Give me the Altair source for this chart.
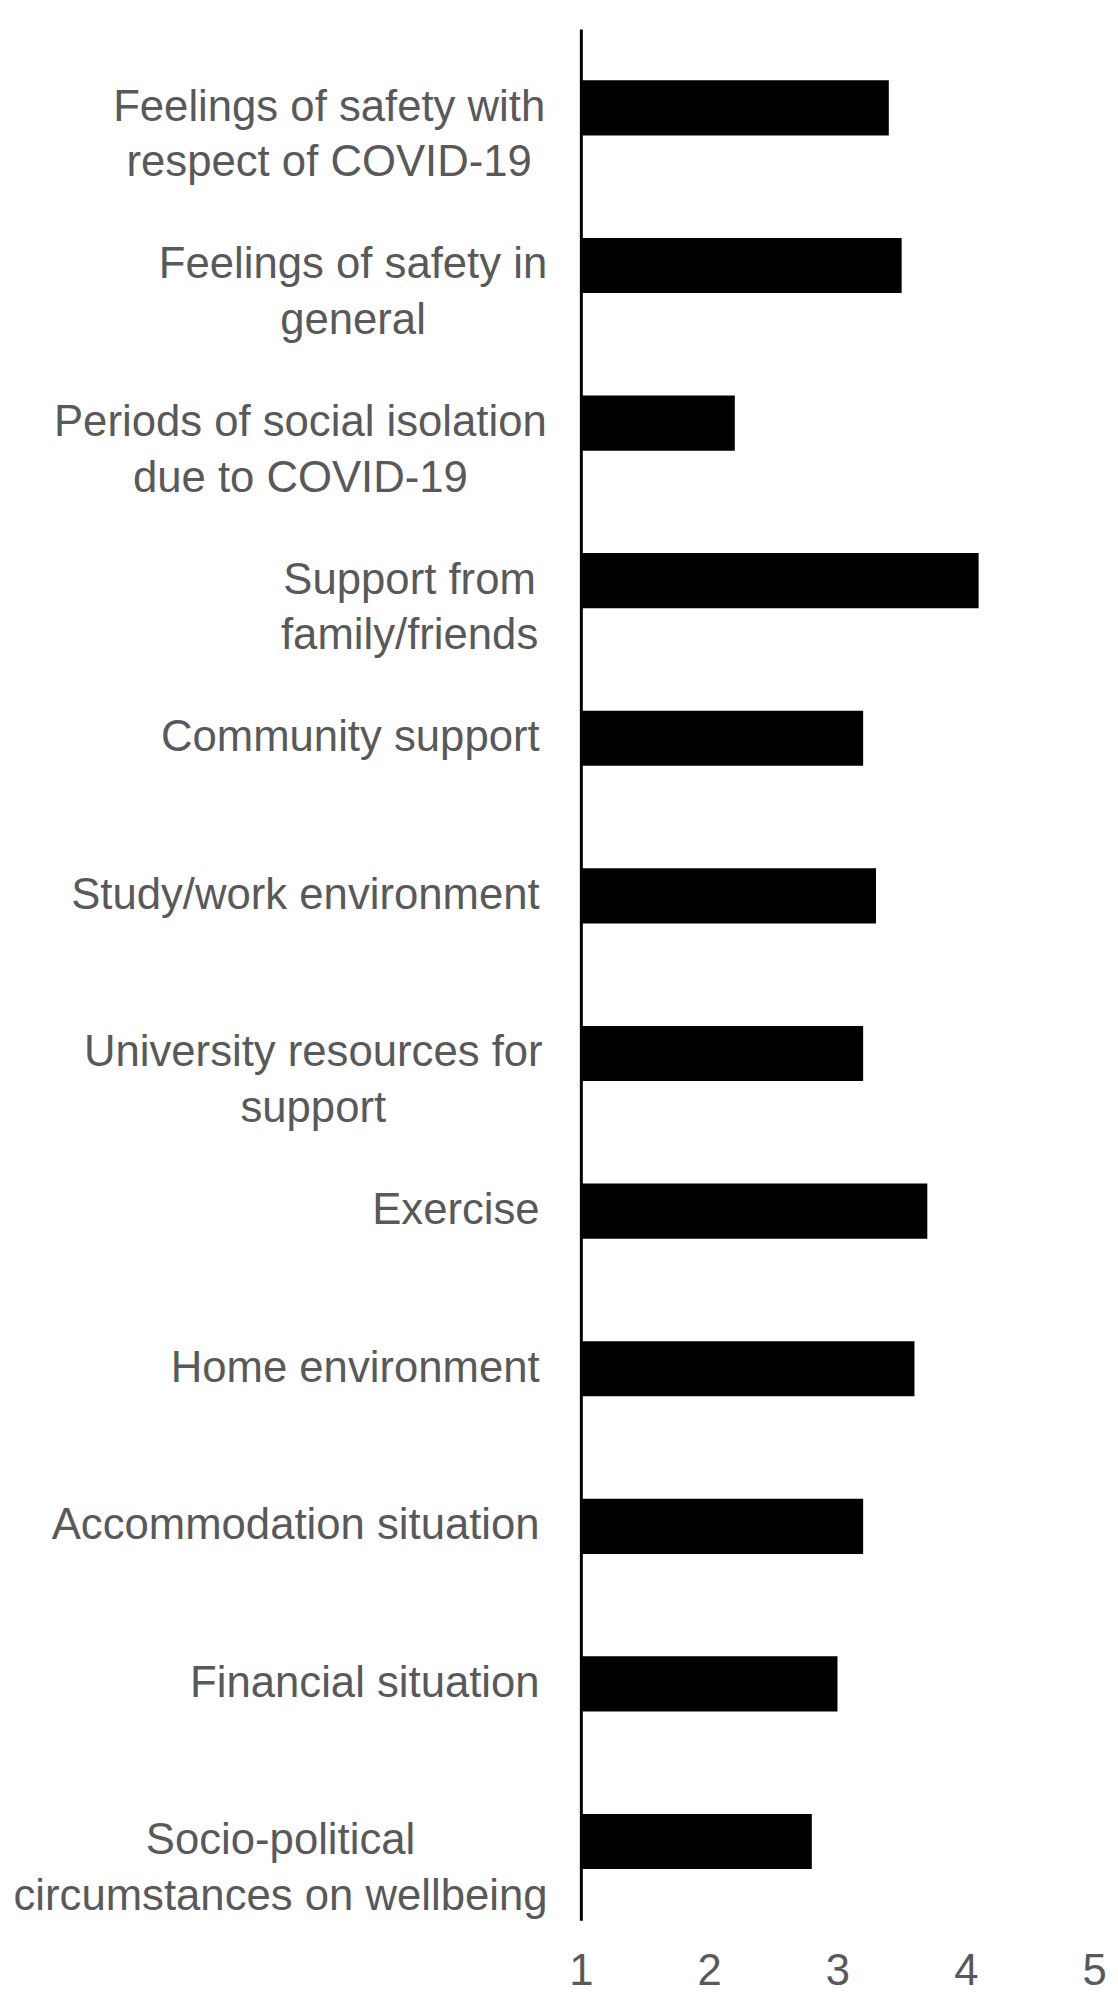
import altair as alt
import pandas as pd

categories = [
    "Feelings of safety with\nrespect of COVID-19",
    "Feelings of safety in\ngeneral",
    "Periods of social isolation\ndue to COVID-19",
    "Support from\nfamily/friends",
    "Community support",
    "Study/work environment",
    "University resources for\nsupport",
    "Exercise",
    "Home environment",
    "Accommodation situation",
    "Financial situation",
    "Socio-political\ncircumstances on wellbeing",
]
values = [3.4, 3.5, 2.2, 4.1, 3.2, 3.3, 3.2, 3.7, 3.6, 3.2, 3.0, 2.8]
x_ticks = [1, 2, 3, 4, 5]

# distance (px) from the axis to the centre of each wrapped (centred) label block
wrapped_label_offset = {
    "Feelings of safety with": 254,
    "Feelings of safety in": 230,
    "Periods of social isolation": 283,
    "Support from": 173,
    "University resources for": 270,
    "Socio-political": 303,
}

df = pd.DataFrame({"item": categories, "score": values})

FONT = "Liberation Sans"
GREY = "#595959"

pad_cond = {
    "condition": [
        {"test": f"indexof(datum.value, '{k}') === 0", "value": v}
        for k, v in wrapped_label_offset.items()
    ],
    "value": 42,
}
align_cond = {
    "condition": {"test": "indexof(datum.value, '\\n') >= 0", "value": "center"},
    "value": "right",
}

chart = (
    alt.Chart(df)
    .mark_bar(color="black")
    .encode(
        y=alt.Y(
            "item:N",
            sort=None,
            scale=alt.Scale(paddingInner=0.65, paddingOuter=0.325),
            axis=alt.Axis(
                title=None,
                ticks=False,
                tickSize=0,
                grid=False,
                domain=True,
                domainColor="black",
                domainWidth=3,
                labelFont=FONT,
                labelFontSize=44,
                labelColor=GREY,
                labelLimit=800,
                labelLineHeight=56,
                labelExpr="split(datum.label, '\\n')",
                labelAlign=align_cond,
                labelPadding=pad_cond,
            ),
        ),
        x=alt.X(
            "score:Q",
            scale=alt.Scale(domain=[1, 5], zero=False, nice=False),
            axis=alt.Axis(
                title=None,
                values=x_ticks,
                format="d",
                grid=False,
                ticks=False,
                tickSize=0,
                domain=False,
                labelFont=FONT,
                labelFontSize=44,
                labelColor=GREY,
                labelFlush=False,
                labelPadding=30,
            ),
        ),
        x2=alt.datum(1),
    )
    .properties(
        width=517,
        height=1905,
        autosize=alt.AutoSizeParams(type="none"),
        padding={"left": 577, "top": 14, "right": 16, "bottom": 68},
    )
    .configure_view(stroke=None)
)

chart.save("out.html", embed_options={"renderer": "svg", "actions": False})
